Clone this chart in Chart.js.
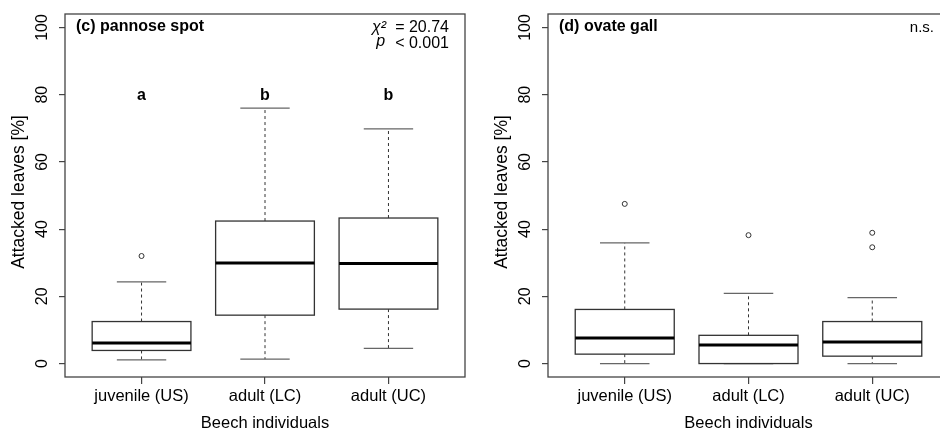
<!DOCTYPE html>
<html>
<head>
<meta charset="utf-8">
<script src="https://cdn.jsdelivr.net/npm/chart.js@4"></script>
<style>
  html, body { margin: 0; padding: 0; background: #fff; }
  #wrap { position: relative; width: 940px; height: 430px; overflow: hidden; background: #fff; }
  #wrap canvas { position: absolute; top: 0; }
</style>
</head>
<body>
<div id="wrap">
  <canvas id="chartC" width="470" height="430" style="left:0"></canvas>
  <canvas id="chartD" width="484" height="430" style="left:470px"></canvas>
</div>
<script>
// categories and tick labels
const categories = ['juvenile (US)', 'adult (LC)', 'adult (UC)'];
const yTicks = [0, 20, 40, 60, 80, 100];

// (c) pannose spot - box stats
const pannoseLow = [1.1, 1.3, 4.5];
const pannoseQ1 = [3.9, 14.4, 16.2];
const pannoseMed = [6.1, 29.9, 29.8];
const pannoseQ3 = [12.5, 42.4, 43.3];
const pannoseHigh = [24.3, 76.0, 69.8];
const pannoseOut = [[32.0], [], []];
const pannoseLetters = ['a', 'b', 'b'];

// (d) ovate gall
const ovateLow = [0, 0, 0];
const ovateQ1 = [2.8, 0, 2.2];
const ovateMed = [7.6, 5.5, 6.4];
const ovateQ3 = [16.1, 8.4, 12.5];
const ovateHigh = [35.9, 20.9, 19.6];
const ovateOut = [[47.5], [38.2], [38.9, 34.6]];

Chart.defaults.font.family = '"Liberation Sans", Arial, sans-serif';
Chart.defaults.color = '#000';

// draws boxes, whiskers, plot frame and the R-style texts
const boxPlugin = {
  id: 'boxes',
  afterDatasetsDraw(chart, args, opts) {
    const ctx = chart.ctx;
    const xs = chart.scales.x, ys = chart.scales.y;
    ctx.save();
    for (let i = 0; i < categories.length; i++) {
      const xc = xs.getPixelForValue(i + 1);
      const hw = xs.getPixelForValue(i + 1.4) - xc;
      const cw = hw / 2;
      const yLo = ys.getPixelForValue(opts.low[i]);
      const yQ1 = ys.getPixelForValue(opts.q1[i]);
      const yMed = ys.getPixelForValue(opts.med[i]);
      const yQ3 = ys.getPixelForValue(opts.q3[i]);
      const yHi = ys.getPixelForValue(opts.high[i]);
      // whiskers (dashed)
      ctx.strokeStyle = '#333';
      ctx.lineWidth = 1;
      ctx.setLineDash([3, 3]);
      ctx.beginPath();
      ctx.moveTo(xc, yQ3); ctx.lineTo(xc, yHi);
      ctx.moveTo(xc, yQ1); ctx.lineTo(xc, yLo);
      ctx.stroke();
      ctx.setLineDash([]);
      // caps
      ctx.strokeStyle = '#666';
      ctx.lineWidth = 1.3;
      ctx.beginPath();
      ctx.moveTo(xc - cw, yHi); ctx.lineTo(xc + cw, yHi);
      ctx.moveTo(xc - cw, yLo); ctx.lineTo(xc + cw, yLo);
      ctx.stroke();
      // box
      ctx.fillStyle = '#fff';
      ctx.fillRect(xc - hw, yQ3, 2 * hw, yQ1 - yQ3);
      ctx.strokeStyle = '#333';
      ctx.lineWidth = 1.3;
      ctx.strokeRect(xc - hw, yQ3, 2 * hw, yQ1 - yQ3);
      // median
      ctx.strokeStyle = '#000';
      ctx.lineWidth = 3;
      ctx.beginPath();
      ctx.moveTo(xc - hw, yMed); ctx.lineTo(xc + hw, yMed);
      ctx.stroke();
    }
    ctx.restore();
  },
  afterDraw(chart, args, opts) {
    const ctx = chart.ctx;
    const xs = chart.scales.x, ys = chart.scales.y;
    const a = chart.chartArea;
    ctx.save();
    // frame
    ctx.strokeStyle = '#444';
    ctx.lineWidth = 1.3;
    ctx.strokeRect(a.left, a.top, a.right - a.left, a.bottom - a.top);
    ctx.fillStyle = '#000';
    // y tick labels, rotated like R
    ctx.font = '16px "Liberation Sans", Arial, sans-serif';
    ctx.textAlign = 'center';
    ctx.textBaseline = 'middle';
    yTicks.forEach(t => {
      ctx.save();
      ctx.translate(a.left - 22, ys.getPixelForValue(t));
      ctx.rotate(-Math.PI / 2);
      ctx.fillText(String(t), 0, 0);
      ctx.restore();
    });
    // y title
    ctx.save();
    ctx.font = '17.5px "Liberation Sans", Arial, sans-serif';
    ctx.translate(a.left - 46, 192);
    ctx.rotate(-Math.PI / 2);
    ctx.fillText('Attacked leaves [%]', 0, 0);
    ctx.restore();
    // x title
    ctx.font = '16.5px "Liberation Sans", Arial, sans-serif';
    ctx.fillText('Beech individuals', (a.left + a.right) / 2, 423);
    // panel title
    ctx.font = 'bold 16px "Liberation Sans", Arial, sans-serif';
    ctx.textAlign = 'left';
    ctx.fillText(opts.title, a.left + 11, 27);
    // group letters
    ctx.textAlign = 'center';
    (opts.letters || []).forEach((l, i) => {
      ctx.fillText(l, xs.getPixelForValue(i + 1), ys.getPixelForValue(80) + 1);
    });
    // test statistics
    ctx.font = '16px "Liberation Sans", Arial, sans-serif';
    if (opts.stat) {
      const rx = a.right - 16;
      ctx.textAlign = 'right';
      ctx.fillText('= 20.74', rx, 28);
      ctx.fillText('< 0.001', rx, 44);
      const w = ctx.measureText('< 0.001').width;
      ctx.font = 'italic 16px "Liberation Sans", Arial, sans-serif';
      ctx.fillText('χ²', rx - w - 9, 28);
      ctx.fillText('p', rx - w - 10, 42);
    } else {
      ctx.font = '15px "Liberation Sans", Arial, sans-serif';
      ctx.textAlign = 'right';
      ctx.fillText('n.s.', a.right - 15, 28);
    }
    ctx.restore();
  }
};

function outlierPoints(out) {
  const pts = [];
  out.forEach((vals, i) => vals.forEach(v => pts.push({ x: i + 1, y: v })));
  return pts;
}

function makePanel(id, yWidth, stats) {
  new Chart(document.getElementById(id), {
    type: 'scatter',
    data: {
      datasets: [{
        data: outlierPoints(stats.out),
        pointStyle: 'circle',
        pointRadius: 2.5,
        borderColor: '#333',
        backgroundColor: 'rgba(0,0,0,0)',
        borderWidth: 1
      }]
    },
    options: {
      responsive: false,
      animation: false,
      events: [],
      layout: { padding: { top: 14, right: 4, left: 0, bottom: 0 } },
      plugins: {
        legend: { display: false },
        tooltip: { enabled: false },
        boxes: stats
      },
      scales: {
        x: {
          type: 'linear',
          min: 0.38, max: 3.62,
          afterBuildTicks: s => { s.ticks = [1, 2, 3].map(v => ({ value: v })); },
          afterFit: s => { s.height = 53; },
          ticks: {
            callback: v => categories[v - 1],
            font: { size: 16.5 },
            color: '#000',
            padding: 3,
            maxRotation: 0
          },
          grid: { drawOnChartArea: false, tickLength: 7, color: '#444', lineWidth: 1.2 },
          border: { display: false }
        },
        y: {
          type: 'linear',
          min: -4, max: 104,
          afterBuildTicks: s => { s.ticks = yTicks.map(v => ({ value: v })); },
          afterFit: s => { s.width = yWidth; },
          ticks: { display: false },
          grid: { drawOnChartArea: false, tickLength: 6, color: '#444', lineWidth: 1.2 },
          border: { display: false }
        }
      }
    },
    plugins: [boxPlugin]
  });
}

makePanel('chartC', 65, {
  low: pannoseLow, q1: pannoseQ1, med: pannoseMed, q3: pannoseQ3, high: pannoseHigh,
  out: pannoseOut, letters: pannoseLetters, title: '(c) pannose spot', stat: true
});
makePanel('chartD', 78, {
  low: ovateLow, q1: ovateQ1, med: ovateMed, q3: ovateQ3, high: ovateHigh,
  out: ovateOut, letters: [], title: '(d) ovate gall', stat: false
});
</script>
</body>
</html>
